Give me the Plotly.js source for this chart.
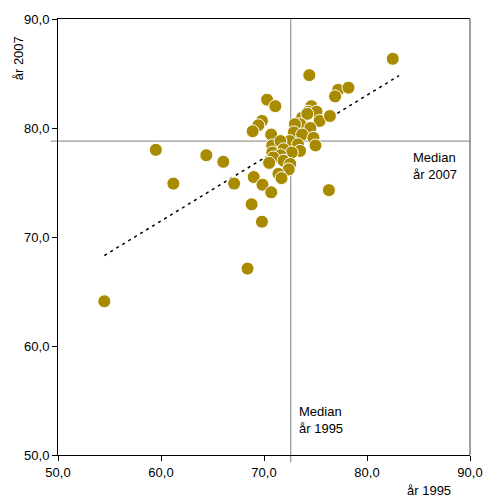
<!DOCTYPE html>
<html>
<head>
<meta charset="utf-8">
<script src="https://cdn.plot.ly/plotly-3.0.1.min.js"></script>
<style>html,body{margin:0;padding:0;background:#fff;}#chart{width:488px;height:498px;}</style>
</head>
<body>
<div id="chart"></div>
<script>
// Values: year 1995 (x) vs year 2007 (y)
const x1995 = [54.5, 59.5, 61.2, 64.4, 66.05, 67.1, 68.4, 69.8, 68.8, 69.0, 69.85, 70.7, 76.3, 82.5, 74.4, 77.2, 78.2, 76.9, 70.3, 71.1,
               74.6, 74.3, 75.1, 73.7, 74.2, 75.4, 76.4, 69.8, 69.45, 68.9, 73.5, 73.0, 74.5, 72.9, 73.7, 74.8, 70.7, 72.5, 73.3, 70.8,
               71.6, 75.0, 71.9, 73.5, 70.8, 72.7, 71.6, 70.9, 71.9, 72.55, 70.5, 72.4, 71.4, 71.7];
const y2007 = [64.1, 78.0, 74.9, 77.5, 76.9, 74.9, 67.1, 71.4, 73.0, 75.5, 74.8, 74.1, 74.3, 86.35, 84.85, 83.5, 83.7, 82.9, 82.6, 82.0,
               82.0, 81.5, 81.5, 80.95, 81.3, 80.65, 81.1, 80.65, 80.25, 79.7, 80.35, 80.35, 80.0, 79.6, 79.4, 79.1, 79.4, 78.8, 78.5, 78.4,
               78.8, 78.4, 78.05, 77.9, 77.75, 77.75, 77.5, 77.3, 77.0, 76.7, 76.8, 76.2, 75.8, 75.4];
const trendX = [54.5, 83.1];
const trendY = [68.3, 84.8];
const median1995 = 72.6;
const median2007 = 78.8;
const tickVals = [50, 60, 70, 80, 90];

const font = {family: 'Liberation Sans, Arial, sans-serif', size: 13, color: '#000'};

const traces = [
  {
    x: trendX, y: trendY, mode: 'lines', type: 'scatter',
    line: {color: '#000', width: 1.5, dash: '3px,4px'}, hoverinfo: 'skip', showlegend: false
  },
  {
    x: x1995, y: y2007, mode: 'markers', type: 'scatter',
    marker: {color: '#A88B00', size: 13, line: {color: '#fff', width: 1}}, showlegend: false
  }
];

const layout = {
  width: 488, height: 498,
  margin: {l: 58, r: 18, t: 19, b: 43},
  paper_bgcolor: '#fff', plot_bgcolor: '#fff',
  separators: ', ',
  font: font,
  showlegend: false,
  xaxis: {
    range: [50, 90], tickvals: tickVals, tickformat: '.1f',
    showgrid: false, zeroline: false, showline: true, linecolor: '#000', linewidth: 1,
    mirror: true, ticks: 'outside', ticklen: 5, tickcolor: '#000', tickfont: font
  },
  yaxis: {
    range: [50, 90], tickvals: tickVals, tickformat: '.1f',
    showgrid: false, zeroline: false, showline: true, linecolor: '#000', linewidth: 1,
    ticks: 'outside', ticklen: 5, tickcolor: '#000', tickfont: font
  },
  shapes: [
    {type: 'line', xref: 'paper', yref: 'paper', x0: 1, x1: 1, y0: 0, y1: 1, line: {color: '#808080', width: 1.5}},
    {type: 'line', xref: 'x', yref: 'paper', x0: median1995, x1: median1995, y0: -0.017, y1: 1, line: {color: '#808080', width: 1}, layer: 'below'},
    {type: 'line', xref: 'paper', yref: 'y', x0: -0.017, x1: 1, y0: median2007, y1: median2007, line: {color: '#808080', width: 1}, layer: 'below'}
  ],
  annotations: [
    {xref: 'paper', yref: 'paper', x: -0.097, y: 0.91, text: 'år 2007', textangle: -90, showarrow: false, font: font, xanchor: 'center', yanchor: 'middle'},
    {xref: 'paper', yref: 'paper', x: 0.9, y: -0.082, text: 'år 1995', showarrow: false, font: font, xanchor: 'center', yanchor: 'middle'},
    {xref: 'x', yref: 'y', x: 84.3, y: 78.2, text: 'Median<br>år 2007', align: 'left', showarrow: false, font: font, xanchor: 'left', yanchor: 'top'},
    {xref: 'x', yref: 'y', x: 73.2, y: 54.9, text: 'Median<br>år 1995', align: 'left', showarrow: false, font: font, xanchor: 'left', yanchor: 'top'}
  ]
};

Plotly.newPlot('chart', traces, layout, {displayModeBar: false, staticPlot: true});
</script>
</body>
</html>
